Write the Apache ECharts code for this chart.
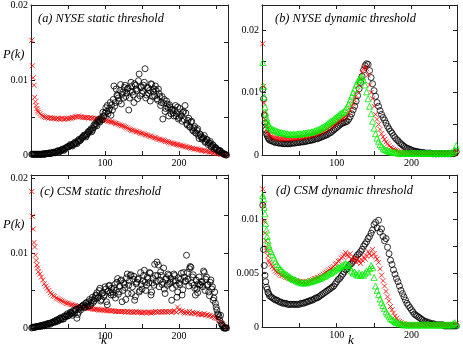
<!DOCTYPE html>
<html>
<head>
<meta charset="utf-8">
<script src="https://cdn.jsdelivr.net/npm/echarts@6/dist/echarts.min.js"></script>
<style>
html, body { margin: 0; padding: 0; background: #fff; }
#chart { width: 463px; height: 346px; }
</style>
</head>
<body>
<div id="chart"></div>
<script>
// degree k (same grid for every series)
var K = [1, 2, 3, 4, 5, 6, 7, 8, 9, 10,
  12, 14, 16, 18, 20, 22, 24, 26, 28, 30,
  32, 34, 36, 38, 40, 42, 44, 46, 48, 50,
  52, 54, 56, 58, 60, 62, 64, 66, 68, 70,
  72, 74, 76, 78, 80, 82, 84, 86, 88, 90,
  92, 94, 96, 98, 100, 102, 104, 106, 108, 110,
  112, 114, 116, 118, 120, 122, 124, 126, 128, 130,
  132, 134, 136, 138, 140, 142, 144, 146, 148, 150,
  152, 154, 156, 158, 160, 162, 164, 166, 168, 170,
  172, 174, 176, 178, 180, 182, 184, 186, 188, 190,
  192, 194, 196, 198, 200, 202, 204, 206, 208, 210,
  212, 214, 216, 218, 220, 222, 224, 226, 228, 230,
  232, 234, 236, 238, 240, 242, 244, 246, 248, 250,
  252, 254, 256, 258, 260, 262, 264];
// odd k, used for the scattered static-threshold circles
var KO = [11, 13, 15, 17, 19, 21, 23, 25, 27, 29,
  31, 33, 35, 37, 39, 41, 43, 45, 47, 49,
  51, 53, 55, 57, 59, 61, 63, 65, 67, 69,
  71, 73, 75, 77, 79, 81, 83, 85, 87, 89,
  91, 93, 95, 97, 99, 101, 103, 105, 107, 109,
  111, 113, 115, 117, 119, 121, 123, 125, 127, 129,
  131, 133, 135, 137, 139, 141, 143, 145, 147, 149,
  151, 153, 155, 157, 159, 161, 163, 165, 167, 169,
  171, 173, 175, 177, 179, 181, 183, 185, 187, 189,
  191, 193, 195, 197, 199, 201, 203, 205, 207, 209,
  211, 213, 215, 217, 219, 221, 223, 225, 227, 229,
  231, 233, 235, 237, 239, 241, 243, 245, 247, 249,
  251, 253, 255, 257, 259, 261, 263];

// P(k) values in units of 1e-4
// (a) NYSE static threshold
var aRed = [153, 119, 103, 93, 77, 71, 66, 62, 59, 57,
  55, 53, 52, 51, 50, 50, 49, 50, 49, 49,
  49, 48, 49, 48, 48, 49, 48, 48, 49, 48,
  49, 49, 50, 50, 51, 51, 52, 51, 51, 50,
  50, 50, 50, 49, 50, 49, 49, 48, 49, 48,
  48, 48, 47, 47, 46, 46, 45, 45, 44, 44,
  43, 42, 42, 41, 40, 39, 39, 38, 37, 36,
  35, 34, 33, 33, 32, 31, 31, 30, 29, 29,
  28, 27, 27, 26, 25, 25, 24, 23, 23, 22,
  21, 21, 20, 20, 19, 18, 18, 17, 16, 16,
  15, 15, 14, 14, 13, 13, 12, 12, 11, 11,
  10, 10, 9, 9, 8, 8, 8, 7, 7, 6,
  6, 6, 5, 5, 4, 4, 4, 3, 3, 2,
  2, 2, 1, 1, 1, 0, 0];
var aBlk = [1, 1, 1, 1, 1, 1, 1, 1, 1, 1,
  1, 1, 1, 1, 2, 2, 2, 2, 3, 3,
  3, 4, 5, 4, 6, 7, 6, 9, 10, 11,
  12, 13, 12, 15, 16, 15, 18, 19, 22, 24,
  25, 24, 28, 30, 33, 31, 36, 38, 41, 44,
  45, 48, 47, 52, 56, 58, 55, 62, 53, 60,
  92, 70, 80, 76, 86, 68, 84, 90, 78, 88,
  60, 85, 92, 80, 95, 88, 75, 108, 90, 82,
  93, 115, 80, 90, 86, 95, 78, 88, 92, 75,
  88, 78, 70, 48, 74, 62, 68, 52, 64, 60,
  56, 60, 52, 64, 50, 54, 45, 58, 66, 42,
  46, 38, 44, 34, 36, 30, 33, 26, 28, 24,
  22, 26, 18, 20, 16, 18, 12, 13, 10, 9,
  7, 6, 5, 3, 2, 1, 0];
var aBlkOdd = [1, 1, 1, 2, 1, 2, 2, 3, 2, 3,
  4, 3, 5, 6, 5, 7, 8, 7, 9, 11,
  11, 14, 13, 14, 17, 16, 19, 21, 20, 23,
  26, 27, 26, 31, 32, 35, 33, 40, 42, 39,
  47, 44, 50, 57, 52, 63, 66, 59, 70, 67,
  74, 65, 88, 79, 72, 94, 81, 76, 93, 83,
  89, 76, 97, 84, 70, 93, 86, 99, 79, 91,
  85, 97, 76, 89, 82, 72, 94, 84, 79, 86,
  73, 82, 66, 78, 69, 58, 72, 63, 67, 55,
  61, 52, 66, 55, 48, 62, 52, 57, 47, 56,
  40, 49, 37, 45, 32, 38, 29, 35, 22, 27,
  21, 23, 17, 21, 14, 16, 11, 14, 8, 10,
  7, 5, 6, 3, 2, 1, 0];

// (b) NYSE dynamic threshold
var bBlk = [105, 90, 64, 51, 40, 34, 31, 28, 26, 24,
  23, 22, 21, 20, 20, 19, 19, 19, 18, 18,
  18, 18, 18, 18, 19, 19, 19, 20, 20, 20,
  21, 21, 21, 22, 22, 23, 23, 24, 24, 25,
  26, 26, 27, 28, 29, 30, 31, 32, 33, 35,
  36, 38, 40, 42, 44, 46, 48, 50, 51, 52,
  53, 54, 57, 61, 66, 72, 78, 86, 95, 106,
  116, 126, 136, 143, 146, 145, 135, 124, 114, 103,
  94, 84, 78, 71, 65, 60, 56, 51, 46, 42,
  38, 35, 31, 28, 25, 23, 20, 18, 16, 14,
  12, 11, 10, 9, 8, 7, 6, 6, 5, 5,
  4, 4, 4, 3, 3, 3, 3, 3, 2, 2,
  2, 2, 2, 2, 2, 2, 2, 2, 2, 2,
  2, 2, 2, 3, 5, 3, 2];
var bRed = [178, 110, 83, 68, 56, 48, 42, 37, 34, 32,
  30, 29, 28, 27, 27, 26, 26, 26, 26, 26,
  26, 26, 26, 26, 26, 27, 27, 27, 27, 28,
  28, 28, 29, 29, 30, 30, 31, 31, 32, 33,
  34, 34, 35, 36, 37, 38, 39, 41, 42, 44,
  46, 47, 49, 50, 52, 54, 55, 57, 59, 60,
  62, 65, 68, 72, 77, 82, 88, 95, 103, 112,
  122, 132, 138, 141, 138, 128, 112, 100, 90, 78,
  65, 57, 49, 41, 34, 29, 25, 21, 18, 15,
  12, 11, 9, 8, 7, 6, 5, 4, 4, 3,
  3, 3, 2, 2, 2, 2, 2, 2, 2, 2,
  2, 2, 2, 2, 2, 2, 2, 2, 2, 2,
  2, 2, 2, 2, 2, 2, 2, 2, 2, 2,
  2, 2, 2, 3, 6, 4, 3];
var bGrn = [148, 110, 93, 77, 67, 59, 54, 50, 47, 45,
  43, 41, 40, 39, 38, 37, 36, 36, 35, 35,
  34, 34, 33, 33, 33, 33, 33, 33, 34, 34,
  34, 34, 35, 35, 35, 36, 36, 37, 37, 38,
  39, 40, 41, 42, 44, 45, 46, 48, 50, 52,
  54, 55, 57, 59, 61, 63, 65, 67, 68, 70,
  73, 77, 82, 88, 94, 100, 106, 112, 118, 121,
  124, 125, 120, 112, 101, 90, 78, 66, 54, 43,
  34, 27, 22, 17, 14, 11, 9, 8, 7, 6,
  5, 5, 4, 4, 4, 3, 3, 3, 3, 3,
  3, 3, 3, 3, 3, 3, 3, 3, 3, 3,
  3, 3, 3, 3, 3, 3, 3, 3, 3, 3,
  3, 3, 3, 3, 3, 3, 3, 3, 3, 3,
  3, 4, 5, 8, 15, 6, 4];

// (c) CSM static threshold
var cRed = [182, 149, 132, 114, 108, 97, 90, 84, 80, 75,
  72, 68, 64, 59, 56, 53, 50, 47, 45, 43,
  42, 40, 39, 38, 37, 36, 35, 34, 33, 33,
  32, 31, 31, 30, 30, 29, 29, 28, 28, 28,
  27, 27, 27, 26, 26, 26, 25, 25, 25, 25,
  24, 24, 24, 24, 24, 23, 23, 23, 23, 23,
  23, 22, 22, 22, 22, 22, 22, 22, 21, 22,
  21, 22, 21, 21, 21, 22, 21, 21, 21, 20,
  21, 21, 20, 21, 21, 20, 21, 21, 22, 21,
  21, 22, 21, 22, 21, 22, 21, 22, 22, 21,
  22, 23, 21, 28, 24, 22, 23, 21, 20, 21,
  20, 22, 19, 21, 20, 19, 20, 18, 19, 18,
  18, 19, 17, 18, 16, 17, 15, 16, 14, 13,
  13, 11, 9, 6, 4, 2, 0];
var cBlk = [0, 1, 1, 1, 1, 1, 2, 2, 2, 2,
  3, 2, 4, 3, 5, 4, 6, 5, 7, 8,
  8, 10, 9, 12, 11, 13, 12, 15, 17, 16,
  18, 20, 17, 22, 24, 13, 21, 26, 28, 30,
  27, 33, 31, 35, 30, 37, 34, 39, 44, 40,
  50, 36, 46, 42, 55, 35, 49, 57, 44, 48,
  53, 40, 61, 45, 56, 64, 50, 58, 38, 72,
  57, 70, 46, 65, 37, 59, 65, 48, 74, 52,
  70, 61, 57, 66, 74, 44, 60, 57, 70, 88,
  84, 64, 70, 61, 52, 65, 57, 70, 61, 37,
  62, 70, 57, 48, 60, 65, 44, 74, 62, 97,
  65, 79, 81, 68, 57, 44, 52, 59, 57, 62,
  55, 74, 65, 57, 48, 61, 52, 37, 48, 28,
  19, 15, 17, 4, 0, 0, 0];
var cBlkOdd = [2, 3, 3, 4, 4, 5, 6, 6, 7, 7,
  9, 8, 11, 10, 13, 14, 12, 16, 15, 19,
  17, 21, 19, 23, 20, 25, 18, 27, 24, 29,
  31, 28, 34, 29, 38, 33, 41, 36, 43, 47,
  41, 53, 38, 47, 44, 52, 31, 56, 47, 53,
  44, 58, 50, 66, 48, 63, 35, 60, 54, 67,
  46, 63, 71, 55, 69, 42, 61, 66, 50, 58,
  63, 77, 50, 68, 60, 73, 48, 66, 85, 62,
  70, 55, 75, 58, 80, 46, 67, 72, 59, 66,
  53, 72, 63, 41, 67, 58, 73, 51, 68, 63,
  74, 56, 82, 60, 71, 53, 64, 47, 68, 58,
  61, 76, 50, 68, 58, 43, 64, 55, 40, 33,
  24, 18, 10, 6, 2, 0, 0];

// (d) CSM dynamic threshold
var dBlk = [113, 72, 57, 48, 42, 37, 35, 32, 31, 29,
  28, 27, 26, 25, 25, 24, 23, 23, 22, 22,
  22, 21, 21, 21, 21, 21, 21, 21, 21, 21,
  22, 22, 22, 23, 23, 24, 24, 25, 25, 26,
  27, 27, 28, 29, 30, 31, 32, 33, 34, 35,
  36, 37, 38, 40, 42, 44, 45, 47, 49, 51,
  53, 54, 56, 58, 59, 61, 63, 65, 67, 68,
  70, 72, 75, 77, 79, 82, 84, 87, 90, 95,
  97, 92, 99, 88, 91, 84, 80, 82, 74, 68,
  62, 58, 53, 49, 45, 42, 38, 34, 31, 28,
  25, 22, 20, 18, 16, 14, 12, 11, 10, 9,
  8, 7, 6, 5, 5, 4, 4, 3, 3, 3,
  2, 2, 2, 2, 2, 2, 1, 1, 1, 1,
  1, 1, 1, 1, 1, 1, 1];
var dRed = [128, 113, 98, 87, 80, 74, 70, 66, 62, 60,
  58, 56, 54, 52, 51, 50, 49, 48, 48, 47,
  46, 46, 45, 45, 44, 44, 43, 43, 42, 42,
  42, 41, 42, 41, 42, 42, 43, 43, 44, 45,
  45, 46, 46, 47, 48, 49, 50, 51, 52, 53,
  54, 55, 56, 58, 59, 61, 62, 64, 65, 67,
  69, 67, 65, 68, 63, 62, 64, 60, 63, 61,
  59, 62, 65, 63, 66, 70, 68, 66, 72, 68,
  65, 63, 60, 54, 48, 43, 38, 33, 28, 24,
  19, 16, 13, 10, 8, 6, 5, 4, 3, 3,
  2, 2, 2, 2, 2, 2, 2, 2, 2, 2,
  2, 2, 2, 2, 2, 2, 2, 2, 2, 2,
  2, 2, 2, 2, 2, 2, 2, 2, 2, 2,
  2, 2, 2, 2, 3, 2, 2];
var dGrn = [122, 119, 111, 105, 96, 90, 84, 80, 76, 73,
  70, 67, 64, 61, 58, 56, 54, 53, 51, 50,
  49, 48, 47, 46, 45, 44, 44, 43, 42, 42,
  41, 41, 41, 41, 41, 42, 42, 42, 43, 43,
  44, 44, 45, 45, 46, 47, 47, 48, 49, 50,
  50, 51, 52, 53, 54, 55, 55, 56, 57, 58,
  59, 58, 57, 55, 52, 50, 51, 49, 48, 50,
  48, 49, 48, 50, 52, 51, 54, 57, 55, 46,
  38, 34, 30, 26, 23, 20, 17, 14, 12, 10,
  8, 7, 6, 5, 4, 4, 3, 3, 3, 2,
  2, 2, 2, 2, 2, 2, 2, 2, 2, 2,
  2, 2, 2, 2, 2, 2, 2, 2, 2, 2,
  2, 2, 2, 2, 2, 2, 2, 2, 2, 2,
  2, 2, 3, 4, 2, 2, 2];

var FONT = '"Liberation Serif", "Times New Roman", serif';

function pts(ks, vals) {
  return ks.map(function (k, i) { return [k, vals[i] / 10000]; });
}

function every(step) {
  return function (v) {
    var r = v / step;
    if (Math.abs(r - Math.round(r)) > 1e-6) return '';
    return v === 0 ? '0' : String(+v.toFixed(4));
  };
}

var grids = [
  { left: 31, top: 5, width: 197, height: 150, xmax: 266, ymax: 0.02, ystep: 0.005, ylab: 0.01 },
  { left: 262, top: 5, width: 195, height: 150, xmax: 261, ymax: 0.024, ystep: 0.005, ylab: 0.01 },
  { left: 31, top: 175, width: 197, height: 153, xmax: 266, ymax: 0.0204, ystep: 0.005, ylab: 0.01 },
  { left: 262, top: 175, width: 195, height: 152, xmax: 261, ymax: 0.0141, ystep: 0.0025, ylab: 0.005 }
];

var xAxes = [], yAxes = [];
grids.forEach(function (g, i) {
  [false, true].forEach(function (mirror) {
    xAxes.push({
      type: 'value', gridIndex: i, min: 0, max: g.xmax, interval: 50,
      position: mirror ? 'top' : 'bottom',
      splitLine: { show: false },
      axisLine: { onZero: false, lineStyle: { color: '#222', width: 1 } },
      axisTick: { inside: true, length: 4, lineStyle: { color: '#222' } },
      axisLabel: {
        show: !mirror, margin: 3, color: '#000', fontFamily: FONT, fontSize: 10,
        formatter: function (v) { return (v === 100 || v === 200) ? String(v) : ''; }
      }
    });
    yAxes.push({
      type: 'value', gridIndex: i, min: 0, max: g.ymax, interval: g.ystep,
      position: mirror ? 'right' : 'left',
      splitLine: { show: false },
      axisLine: { onZero: false, lineStyle: { color: '#222', width: 1 } },
      axisTick: { inside: true, length: 4, lineStyle: { color: '#222' } },
      axisLabel: {
        show: !mirror, margin: 3, color: '#000', fontFamily: FONT, fontSize: 10,
        formatter: every(g.ylab)
      }
    });
  });
});

var circle = { symbol: 'circle', symbolSize: 6, itemStyle: { color: 'rgba(0,0,0,0)', borderColor: '#000', borderWidth: 1 } };
var cross = { symbol: 'path://M0,0L10,10M10,0L0,10', symbolSize: 5, itemStyle: { color: 'rgba(0,0,0,0)', borderColor: '#ff0000', borderWidth: 1 } };
var tri = { symbol: 'triangle', symbolSize: 6, itemStyle: { color: 'rgba(0,0,0,0)', borderColor: '#00ee00', borderWidth: 1 } };

function sc(style, ks, vals, gi) {
  return {
    type: 'scatter', xAxisIndex: gi * 2, yAxisIndex: gi * 2,
    symbol: style.symbol, symbolSize: style.symbolSize, itemStyle: style.itemStyle,
    data: pts(ks, vals), silent: true, clip: true
  };
}

function label(text, left, top, size) {
  return {
    text: text, left: left, top: top, padding: 0,
    textStyle: { fontFamily: FONT, fontStyle: 'italic', fontWeight: 'normal', fontSize: size, color: '#000' }
  };
}

var chart = echarts.init(document.getElementById('chart'));
chart.setOption({
  animation: false,
  backgroundColor: '#fff',
  title: [
    label('(a) NYSE static threshold', 38, 13, 12.4),
    label('(b) NYSE dynamic threshold', 275, 13, 12.4),
    label('(c) CSM static threshold', 40, 186, 12.4),
    label('(d) CSM dynamic threshold', 276, 185, 12.4),
    label('P(k)', 3, 48, 12.5),
    label('P(k)', 3, 218, 12.5),
    label('k', 101, 334, 13),
    label('k', 348, 334, 13)
  ],
  grid: grids.map(function (g) {
    return { left: g.left, top: g.top, width: g.width, height: g.height, containLabel: false };
  }),
  xAxis: xAxes,
  yAxis: yAxes,
  series: [
    sc(cross, K, aRed, 0), sc(circle, K, aBlk, 0), sc(circle, KO, aBlkOdd, 0),
    sc(circle, K, bBlk, 1), sc(cross, K, bRed, 1), sc(tri, K, bGrn, 1),
    sc(cross, K, cRed, 2), sc(circle, K, cBlk, 2), sc(circle, KO, cBlkOdd, 2),
    sc(circle, K, dBlk, 3), sc(cross, K, dRed, 3), sc(tri, K, dGrn, 3)
  ]
});
</script>
</body>
</html>
